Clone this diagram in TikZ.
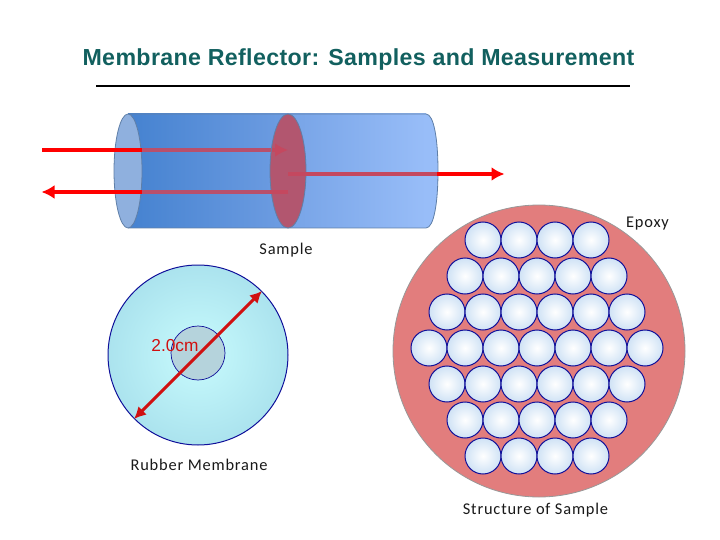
\documentclass[tikz,border=0pt]{standalone}
\usepackage{fontspec}
\setmainfont{Liberation Sans}
\newfontfamily\lab[LetterSpace=5]{Carlito}
\newfontfamily\titlefont[LetterSpace=1.5]{Liberation Sans}
\usetikzlibrary{arrows.meta,shapes.geometric,calc}
\definecolor{titlec}{HTML}{12605F}
\definecolor{cyldark}{HTML}{4582D0}
\definecolor{cylmid}{HTML}{6E9DE2}
\definecolor{cyllight}{HTML}{98BDF8}
\definecolor{capc}{HTML}{8FB0DE}
\definecolor{edgeb}{HTML}{5F7FA8}
\definecolor{epoxy}{HTML}{E27D7D}
\definecolor{navy}{HTML}{10109A}
\definecolor{disk}{HTML}{B2566F}
\definecolor{overb}{HTML}{B8506C}
\definecolor{overc}{HTML}{C4485F}
\definecolor{arrred}{HTML}{D01010}
\definecolor{memin}{HTML}{C8FBFD}
\definecolor{memout}{HTML}{ABE3EE}
\definecolor{corec}{HTML}{B5D3DC}
\definecolor{fibrim}{HTML}{CFE2F5}
\tikzset{
 x=1pt,y=-1pt,
 labeltext/.style={font=\lab\fontsize{16.4}{18}\selectfont,inner sep=0pt,text=black!90},
 beam/.style={draw=red,line width=4pt},
 beamhead/.style={-{Latex[length=13pt,width=14pt]}},
 fiber/.style={circle,minimum size=36pt,inner sep=0pt,draw=navy,line width=1pt,inner color=white,outer color=fibrim},
 overlaybeam/.style={draw=overb,line width=4pt},
}
\begin{document}
\begin{tikzpicture}
\useasboundingbox (0,0) rectangle (720,540);
\node[font=\titlefont\bfseries\fontsize{23.2}{26}\selectfont,text=titlec,inner sep=0pt] (title) at (358.5,59.5) {Membrane Reflector: Samples and Measurement};
\coordinate (ruleL) at (96,86); \coordinate (ruleR) at (630,86);
\draw[line width=1.3pt] (ruleL) -- (ruleR);
\coordinate (outA) at (288,174); \coordinate (outB) at (437,174); \coordinate (outC) at (504.5,174);
\coordinate (inA) at (42,150); \coordinate (inB) at (142,150); \coordinate (inC) at (288,150);
\coordinate (backA) at (288,192); \coordinate (backB) at (142,192); \coordinate (backC) at (41.5,192);
% tube
\fill[left color=cyldark,right color=cylmid] (128,114) rectangle (288,228);
\fill[left color=cylmid!80!cyllight,right color=cyllight] (288,114) rectangle (426,228);
\fill[cyllight] (426,114) .. controls (434,114) and (438,140) .. (438,171) .. controls (438,202) and (434,228) .. (426,228) -- cycle;
\draw[edgeb,line width=.8pt] (128,114) -- (426,114) .. controls (434,114) and (438,140) .. (438,171) .. controls (438,202) and (434,228) .. (426,228) -- (128,228);
\node[ellipse,minimum width=28pt,minimum height=114pt,inner sep=0pt,fill=capc,draw=edgeb,line width=.8pt] (cap) at (128,171) {};
\draw[beam,beamhead] (outB) -- (outC);
\draw[beam] (inA) -- (inB);
\draw[beam,beamhead] (backB) -- (backC);
\draw[overlaybeam,beamhead] (inB) -- (inC);
\draw[overlaybeam] (backA) -- (backB);
\node[ellipse,minimum width=36pt,minimum height=114pt,inner sep=0pt,fill=disk,draw=edgeb,line width=.8pt] (disk) at (288,171) {};
\draw[overc,line width=4pt] (outA) -- (outB);
\draw[overc,line width=4pt,beamhead] ($(inC)+(-16,0)$) -- (inC);
\draw[overc,line width=4pt] (backA) -- ($(backA)+(-18,0)$);
% membrane
\node[labeltext] (sampleL) at (286,250) {Sample};
\node[circle,minimum size=180pt,inner sep=0pt,draw=navy,line width=1pt,inner color=memin,outer color=memout] (membrane) at (198,355) {};
\node[circle,minimum size=54pt,inner sep=0pt,draw=navy,line width=.7pt,fill=corec] (core) at (198,353) {};
\coordinate (dA) at (134,419); \coordinate (dB) at (262,291);
\draw[arrred,line width=3pt,{Latex[length=12pt,width=12pt]}-{Latex[length=12pt,width=12pt]}] (dA) -- (dB);
\node[font=\fontsize{17.3}{18}\selectfont,text=arrred,inner sep=0pt] (dia) at (175,346) {2.0cm};
\node[labeltext] (rubberL) at (199,465) {Rubber Membrane};
% sample structure
\node[circle,minimum size=292pt,inner sep=0pt,fill=epoxy,draw=black!40,line width=.8pt] (epoxyC) at (539,351) {};
\foreach \r/\y/\xs/\n in {1/240/483/4,2/276/465/5,3/312/447/6,4/348/429/7,5/384/447/6,6/420/465/5,7/456/483/4}{
  \foreach \i in {1,...,\n}{
    \node[fiber] (f\r-\i) at ({\xs+36*(\i-1)},\y) {};
  }
}
\node[labeltext] (epoxyL) at (647.5,223.5) {Epoxy};
\node[labeltext] (structL) at (535.5,510) {Structure of Sample};
\end{tikzpicture}
\end{document}
